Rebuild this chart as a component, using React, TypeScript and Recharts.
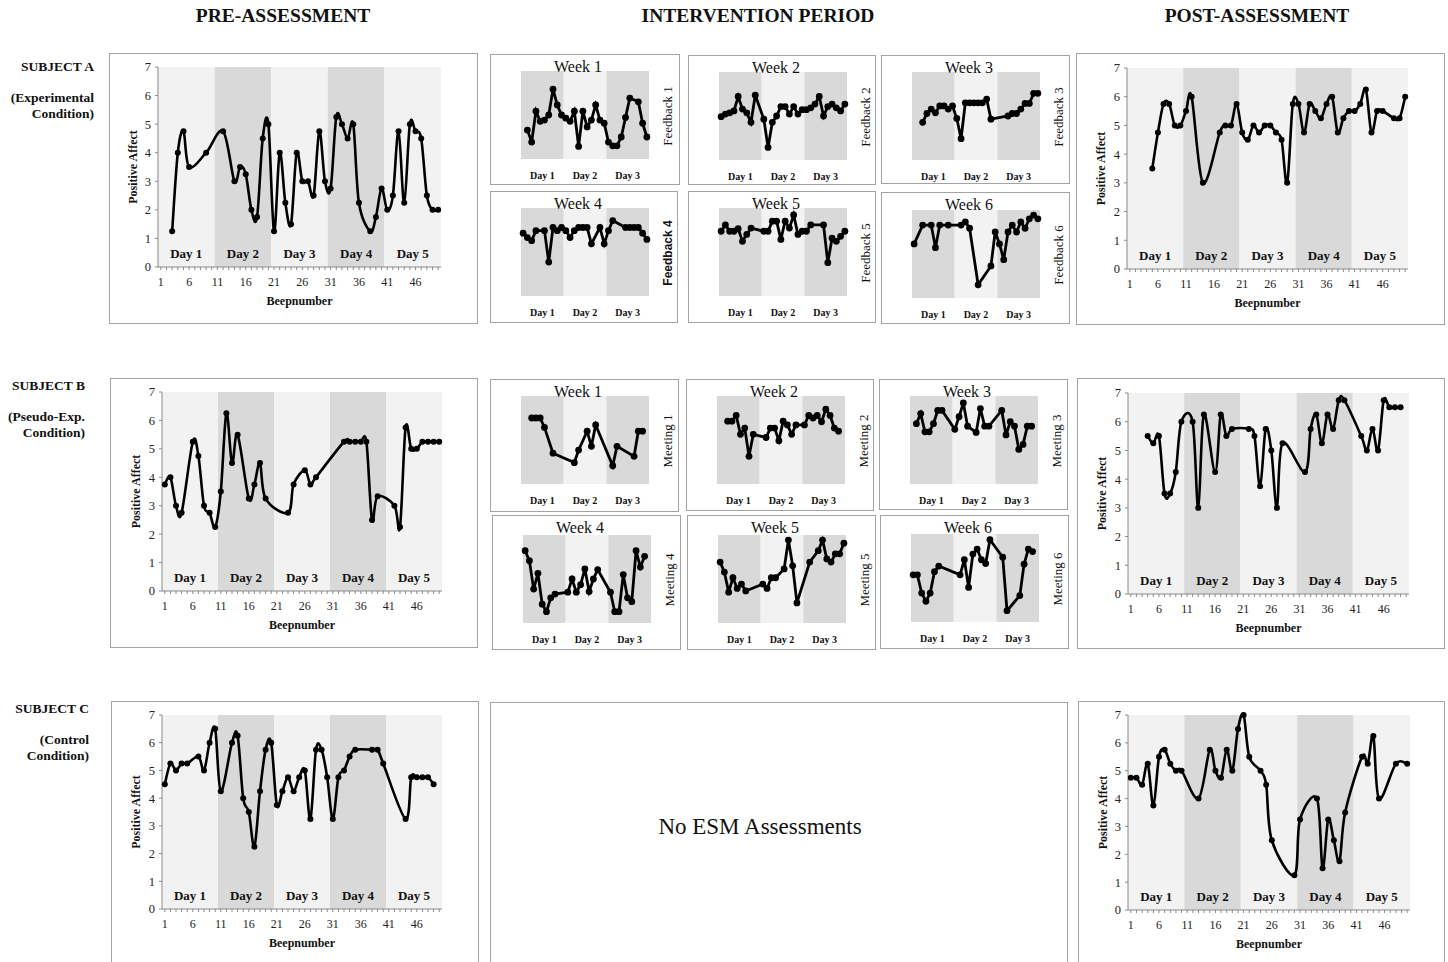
import { LineChart, Line, XAxis, YAxis, ReferenceArea } from 'recharts';

const SERIF = '"Liberation Serif", "Times New Roman", serif';
const SANS = '"Liberation Sans", Arial, sans-serif';
const LIGHT = '#f2f2f2';
const DARK = '#d9d9d9';
const AXIS = '#8a8a8a';

type V = number | null;

// beep numbers and tick labels
const beeps = Array.from({ length: 50 }, (_, i) => i + 1);
const miniBeeps = Array.from({ length: 30 }, (_, i) => i + 1);
const beepLabels = [1, 6, 11, 16, 21, 26, 31, 36, 41, 46];
const affectTicks = [0, 1, 2, 3, 4, 5, 6, 7];
const fiveDays = ['Day 1', 'Day 2', 'Day 3', 'Day 4', 'Day 5'];
const threeDays = ['Day 1', 'Day 2', 'Day 3'];

// pre / post assessment, positive affect per beep (null = missing beep)
const preA: V[] = [
  null, null, 1.25, 4.0, 4.75, 3.5, null, null, 4.0, null,
  null, 4.75, null, 3.0, 3.5, 3.25, 2.0, 1.75, 4.5, 5.0,
  1.25, 4.0, 2.25, 1.5, 4.0, 3.0, 3.0, 2.5, 4.75, 3.0,
  2.75, 5.25, 5.0, 4.5, 5.0, 2.25, null, 1.25, 1.75, 2.75,
  2.0, 2.5, 4.75, 2.25, 5.0, 4.75, 4.5, 2.5, 2.0, 2.0,
];
const postA: V[] = [
  null, null, null, null, 3.5, 4.75, 5.75, 5.75, 5.0, 5.0,
  5.5, 6.0, null, 3.0, null, null, 4.75, 5.0, 5.0, 5.75,
  4.75, 4.5, 5.0, 4.75, 5.0, 5.0, 4.75, 4.5, 3.0, 5.75,
  5.75, 4.75, 5.75, 5.5, 5.25, 5.75, 6.0, 4.75, 5.25, 5.5,
  5.5, 5.75, 6.25, 4.75, 5.5, 5.5, null, 5.25, 5.25, 6.0,
];
const preB: V[] = [
  3.75, 4.0, 3.0, 2.75, null, 5.25, 4.75, 3.0, 2.75, 2.25,
  3.5, 6.25, 4.5, 5.5, null, 3.25, 3.75, 4.5, 3.25, null,
  null, null, 2.75, 3.75, null, 4.25, 3.75, 4.0, null, null,
  null, null, 5.25, 5.25, 5.25, 5.25, 5.25, 2.5, 3.33, null,
  null, 3.0, 2.25, 5.75, 5.0, 5.0, 5.25, 5.25, 5.25, 5.25,
];
const postB: V[] = [
  null, null, null, 5.5, 5.25, 5.5, 3.5, 3.5, 4.25, 6.0,
  null, 6.0, 3.0, 6.25, null, 4.25, 6.25, 5.5, 5.75, null,
  null, 5.75, 5.5, 3.75, 5.75, 5.0, 3.0, 5.25, null, null,
  null, 4.25, 5.75, 6.25, 5.25, 6.25, 5.75, 6.75, 6.75, null,
  null, 5.5, 5.0, 5.75, 5.0, 6.75, 6.5, 6.5, 6.5, null,
];
const preC: V[] = [
  4.5, 5.25, 5.0, 5.25, 5.25, null, 5.5, 5.0, 6.0, 6.5,
  4.25, null, 6.0, 6.25, 4.0, 3.5, 2.25, 4.25, 5.75, 6.0,
  3.75, 4.25, 4.75, 4.25, 4.75, 5.0, 3.25, 5.75, 5.75, 4.75,
  3.25, 4.75, 5.0, 5.5, 5.75, null, null, 5.75, 5.75, 5.25,
  null, null, null, 3.25, 4.75, 4.75, 4.75, 4.75, 4.5, null,
];
const postC: V[] = [
  4.75, 4.75, 4.5, 5.25, 3.75, 5.5, 5.75, 5.25, 5.0, 5.0,
  null, null, 4.0, null, 5.75, 5.0, 4.75, 5.75, 5.0, 6.5,
  7.0, 5.5, null, 5.0, 4.5, 2.5, null, null, null, 1.25,
  3.25, null, null, 4.0, 1.5, 3.25, 2.5, 1.75, 3.5, null,
  null, 5.5, 5.25, 6.25, 4.0, null, null, 5.25, null, 5.25,
];

// intervention weeks, subject A (feedback)
const feedW1: V[] = [
  null, 2.3, 1.35, 3.8, 3.0, 3.1, 3.5, 5.55, 4.3, 3.5,
  3.25, 3.0, 3.8, 1.0, 3.8, 2.55, 3.1, 4.3, 3.1, 2.85,
  1.35, 1.05, 1.05, 1.75, 3.3, 4.85, null, 4.55, 2.85, 1.75,
];
const feedW2: V[] = [
  3.45, 3.65, 3.75, 3.9, 5.05, 4.05, 3.75, 3.0, 5.15, null,
  3.25, 1.0, 3.0, 3.5, 4.25, 4.25, 3.65, 4.25, 3.65, 4.0,
  4.0, 4.15, 4.45, 5.05, 3.5, 4.25, 4.45, 4.15, 3.9, 4.45,
];
const feedW3: V[] = [
  null, null, 3.0, 3.7, 4.05, 3.75, 4.3, 4.3, 4.05, 4.3,
  3.3, 1.7, 4.55, 4.55, 4.55, 4.55, 4.55, 4.85, 3.25, null,
  null, null, 3.5, 3.7, 3.7, 4.05, 4.5, 4.5, 5.3, 5.3,
];
const feedW4: V[] = [
  5.0, 4.65, 4.4, 5.2, null, 5.2, 2.7, 5.45, 5.2, 5.45,
  5.2, 4.65, 5.2, 5.45, 5.45, 5.45, 4.15, null, 5.45, 4.15,
  5.2, 6.0, null, null, 5.45, 5.45, 5.45, 5.45, 5.0, 4.5,
];
const feedW5: V[] = [
  5.15, 5.65, 5.15, 5.15, 5.35, 4.35, 4.9, 5.4, null, null,
  5.15, 5.15, 5.95, 5.95, 4.5, 5.95, 5.4, 6.45, 4.9, 5.15,
  5.15, 5.65, null, null, 5.65, 2.65, 4.6, 4.35, 4.75, 5.15,
];
const feedW6: V[] = [
  4.3, null, 5.8, null, 5.8, 4.0, 5.8, null, 5.8, null,
  null, 5.8, 6.05, 5.55, null, 1.05, null, null, 2.55, 5.25,
  4.3, 3.05, 5.25, 5.8, 5.25, 6.05, 5.55, 6.3, 6.6, 6.3,
];

// intervention weeks, subject B (meetings)
const meetW1: V[] = [
  null, null, 5.25, 5.25, 5.25, 4.5, null, 2.45, null, null,
  null, null, 1.7, 2.7, null, 4.2, 3.0, 4.7, null, null,
  null, 1.45, 3.0, null, null, null, 2.2, 4.2, 4.2, null,
];
const meetW2: V[] = [
  null, null, 5.0, 5.0, 5.45, 3.95, 4.45, 2.2, 3.95, null,
  null, 3.7, 4.45, 4.45, 3.45, 5.0, 4.7, 3.95, 4.7, null,
  4.7, 5.45, 5.25, 5.45, 4.95, 5.95, 5.45, 4.45, 4.2, null,
];
const meetW3: V[] = [
  null, 4.8, 5.6, 4.15, 4.15, 4.8, 5.85, 5.85, null, null,
  4.35, 5.35, 6.45, 4.6, null, 4.1, 6.0, 4.6, 4.6, null,
  null, 5.85, 3.9, 4.95, 4.6, 2.75, 3.15, 4.6, 4.6, null,
];
const meetW4: V[] = [
  5.75, 4.95, 2.7, 3.95, 1.5, 0.9, 2.0, 2.3, null, null,
  2.45, 3.5, 2.45, 3.05, 4.3, 2.5, 3.5, 4.25, null, null,
  2.45, 0.9, 0.9, 3.85, 2.0, 1.7, 5.75, 4.45, 5.3, null,
];
const meetW5: V[] = [
  4.85, 4.05, 2.45, 3.6, 2.75, 3.1, 2.55, null, null, null,
  3.1, 2.75, 3.6, 3.6, null, 4.3, 6.6, 4.55, 1.6, null,
  null, 4.85, null, 5.75, 6.6, 5.1, 4.85, 5.5, 5.5, 6.35,
];
const meetW6: V[] = [
  3.75, 3.75, 2.3, 1.65, 2.3, 4.0, 4.45, null, null, null,
  null, 3.75, 4.95, 2.75, 5.4, 5.8, 4.95, 4.65, 6.55, null,
  null, 5.15, 0.9, null, null, 2.1, 4.6, 5.8, 5.6, null,
];

// smoothed line like the spreadsheet's "smooth line" option
const smoothCurve = (context: any) => {
  let pts: number[][] = [];
  return {
    areaStart() {},
    areaEnd() {},
    lineStart() {
      pts = [];
    },
    lineEnd() {
      const n = pts.length;
      if (!n) return;
      context.moveTo(pts[0][0], pts[0][1]);
      for (let i = 0; i < n - 1; i++) {
        const p0 = pts[Math.max(i - 1, 0)];
        const p1 = pts[i];
        const p2 = pts[i + 1];
        const p3 = pts[Math.min(i + 2, n - 1)];
        context.bezierCurveTo(
          p1[0] + (p2[0] - p0[0]) / 6,
          p1[1] + (p2[1] - p0[1]) / 6,
          p2[0] - (p3[0] - p1[0]) / 6,
          p2[1] - (p3[1] - p1[1]) / 6,
          p2[0],
          p2[1],
        );
      }
    },
    point(x: number, y: number) {
      pts.push([+x, +y]);
    },
  };
};

interface Rect { x: number; y: number; w: number; h: number }

const XTick = (p: any) => {
  const v = p.payload.value;
  if (!beepLabels.includes(v)) return <g />;
  return (
    <text x={p.x} y={p.y} dy="0.71em" textAnchor="middle" fontSize={12} fill="#222" fontFamily={SERIF}>
      {v}
    </text>
  );
};

function AssessmentChart({ box, plot, values }: { box: Rect; plot: Rect; values: V[] }) {
  const w = box.w - 2;
  const h = box.h - 2;
  const yW = plot.x - box.x - 1;
  const top = plot.y - box.y - 1;
  const xH = 38;
  const right = w - yW - plot.w;
  const bottom = h - top - plot.h - xH;
  const data = beeps.map((b, i) => ({ beep: b, v: values[i] }));
  return (
    <div style={{ position: 'absolute', left: box.x, top: box.y, width: box.w, height: box.h, boxSizing: 'border-box', border: '1px solid #a3a3a3', background: '#fff' }}>
      <LineChart width={w} height={h} data={data} margin={{ top, right, bottom, left: 0 }}>
        {fiveDays.map((d, i) => (
          <ReferenceArea
            key={d}
            x1={i * 10 + 0.5}
            x2={i * 10 + 10.5}
            y1={0}
            y2={7}
            fill={i % 2 ? DARK : LIGHT}
            fillOpacity={1}
            stroke="none"
            label={{ value: d, position: 'insideBottom', offset: 9, fontSize: 13, fontWeight: 700, fill: '#111', fontFamily: SERIF }}
          />
        ))}
        <XAxis
          dataKey="beep"
          type="number"
          domain={[0.5, 50.5]}
          ticks={beeps}
          interval={0}
          height={xH}
          stroke={AXIS}
          tickSize={3}
          tickMargin={7}
          tick={XTick}
          label={{ value: 'Beepnumber', position: 'insideBottom', offset: 0, fontSize: 12, fontWeight: 700, fill: '#111', fontFamily: SERIF }}
        />
        <YAxis
          type="number"
          domain={[0, 7]}
          ticks={affectTicks}
          interval={0}
          width={yW}
          stroke={AXIS}
          tickSize={3}
          tickMargin={4}
          tick={{ fontSize: 12.5, fill: '#222', fontFamily: SERIF }}
          label={{ value: 'Positive Affect', angle: -90, position: 'center', dx: -1, fontSize: 12, fontWeight: 700, fill: '#111', fontFamily: SERIF }}
        />
        <Line
          dataKey="v"
          type={smoothCurve as any}
          stroke="#000"
          strokeWidth={2.6}
          dot={{ r: 3, fill: '#000', stroke: '#000', strokeWidth: 0 }}
          activeDot={false}
          connectNulls
          isAnimationActive={false}
        />
      </LineChart>
    </div>
  );
}

function WeekChart({ box, values, title, side, sideSans = false, plotTop = 17 }: { box: Rect; values: V[]; title: string; side: string; sideSans?: boolean; plotTop?: number }) {
  const w = box.w - 2;
  const h = box.h - 2;
  const plotW = 128;
  const plotH = 88;
  const xH = 22;
  const data = miniBeeps.map((b, i) => ({ beep: b, v: values[i] }));
  return (
    <div style={{ position: 'absolute', left: box.x, top: box.y, width: box.w, height: box.h, boxSizing: 'border-box', border: '1px solid #a3a3a3', background: '#fff' }}>
      <LineChart width={w} height={h} data={data} margin={{ top: plotTop - 1, left: 30, right: w - 30 - plotW, bottom: h - plotTop + 1 - plotH - xH }}>
        {threeDays.map((d, i) => (
          <ReferenceArea key={d} x1={i * 10 + 0.5} x2={i * 10 + 10.5} y1={0} y2={7} fill={i === 1 ? LIGHT : DARK} fillOpacity={1} stroke="none" />
        ))}
        <XAxis
          dataKey="beep"
          type="number"
          domain={[0.5, 30.5]}
          ticks={[5.5, 15.5, 25.5]}
          tickFormatter={(v: number) => threeDays[Math.floor(v / 10)]}
          interval={0}
          height={xH}
          axisLine={false}
          tickLine={false}
          tickMargin={7}
          tick={{ fontSize: 10, fontWeight: 700, fill: '#111', fontFamily: SERIF }}
        />
        <YAxis type="number" domain={[0, 7]} hide />
        <Line
          dataKey="v"
          type="linear"
          stroke="#000"
          strokeWidth={2.8}
          dot={{ r: 3.4, fill: '#000', stroke: '#000', strokeWidth: 0 }}
          activeDot={false}
          connectNulls
          isAnimationActive={false}
        />
      </LineChart>
      <div style={{ position: 'absolute', left: 27, top: 3, width: 120, textAlign: 'center', fontSize: 16, lineHeight: '18px', fontFamily: SERIF, color: '#111' }}>
        {title}
      </div>
      <div
        style={{
          position: 'absolute',
          left: 117,
          top: plotTop + plotH / 2 - 9,
          width: 120,
          textAlign: 'center',
          fontSize: sideSans ? 12 : 13,
          fontWeight: sideSans ? 700 : 400,
          lineHeight: '18px',
          fontFamily: sideSans ? SANS : SERIF,
          color: '#111',
          transform: 'rotate(-90deg)',
        }}
      >
        {side}
      </div>
    </div>
  );
}

function Header({ cx, text }: { cx: number; text: string }) {
  return (
    <div style={{ position: 'absolute', left: cx - 200, top: 5, width: 400, textAlign: 'center', fontSize: 19.5, fontWeight: 700, lineHeight: '22px', fontFamily: SERIF, color: '#111' }}>
      {text}
    </div>
  );
}

function SubjectLabel({ right, y, lines }: { right: number; y: number; lines: string[] }) {
  const tops = [y - 8, y + 23, y + 39];
  return (
    <>
      {lines.map((t, i) => (
        <div key={t} style={{ position: 'absolute', left: right - 120, top: tops[i], width: 120, textAlign: 'right', fontSize: 13.5, fontWeight: 700, lineHeight: '16px', fontFamily: SERIF, color: '#111' }}>
          {t}
        </div>
      ))}
    </>
  );
}

export default function App() {
  return (
    <div style={{ position: 'absolute', left: 0, top: 0, width: 1448, height: 962, overflow: 'hidden', background: '#fff' }}>
      <Header cx={283} text="PRE-ASSESSMENT" />
      <Header cx={758} text="INTERVENTION PERIOD" />
      <Header cx={1257} text="POST-ASSESSMENT" />

      <SubjectLabel right={94} y={67} lines={['SUBJECT A', '(Experimental', 'Condition)']} />
      <SubjectLabel right={85} y={386} lines={['SUBJECT B', '(Pseudo-Exp.', 'Condition)']} />
      <SubjectLabel right={89} y={709} lines={['SUBJECT C', '(Control', 'Condition)']} />

      <AssessmentChart box={{ x: 109, y: 53, w: 369, h: 271 }} plot={{ x: 158, y: 67, w: 283, h: 200 }} values={preA} />
      <AssessmentChart box={{ x: 110, y: 378, w: 368, h: 270 }} plot={{ x: 162, y: 392, w: 280, h: 199 }} values={preB} />
      <AssessmentChart box={{ x: 111, y: 701, w: 368, h: 266 }} plot={{ x: 162, y: 715, w: 280, h: 194 }} values={preC} />

      <AssessmentChart box={{ x: 1076, y: 53, w: 369, h: 272 }} plot={{ x: 1127, y: 68, w: 281, h: 201 }} values={postA} />
      <AssessmentChart box={{ x: 1077, y: 378, w: 368, h: 271 }} plot={{ x: 1128, y: 393, w: 281, h: 201 }} values={postB} />
      <AssessmentChart box={{ x: 1078, y: 701, w: 367, h: 266 }} plot={{ x: 1128, y: 715, w: 282, h: 195 }} values={postC} />

      <WeekChart box={{ x: 490, y: 54, w: 190, h: 131 }} values={feedW1} title="Week 1" side="Feedback 1" />
      <WeekChart box={{ x: 688, y: 55, w: 188, h: 130 }} values={feedW2} title="Week 2" side="Feedback 2" />
      <WeekChart box={{ x: 881, y: 55, w: 189, h: 129 }} values={feedW3} title="Week 3" side="Feedback 3" />
      <WeekChart box={{ x: 490, y: 191, w: 188, h: 132 }} values={feedW4} title="Week 4" side="Feedback 4" sideSans />
      <WeekChart box={{ x: 688, y: 191, w: 188, h: 132 }} values={feedW5} title="Week 5" side="Feedback 5" />
      <WeekChart box={{ x: 881, y: 192, w: 189, h: 132 }} values={feedW6} title="Week 6" side="Feedback 6" plotTop={18} />

      <WeekChart box={{ x: 490, y: 379, w: 189, h: 133 }} values={meetW1} title="Week 1" side="Meeting 1" />
      <WeekChart box={{ x: 686, y: 379, w: 188, h: 132 }} values={meetW2} title="Week 2" side="Meeting 2" />
      <WeekChart box={{ x: 879, y: 379, w: 189, h: 131 }} values={meetW3} title="Week 3" side="Meeting 3" />
      <WeekChart box={{ x: 492, y: 515, w: 189, h: 135 }} values={meetW4} title="Week 4" side="Meeting 4" plotTop={20} />
      <WeekChart box={{ x: 687, y: 515, w: 189, h: 135 }} values={meetW5} title="Week 5" side="Meeting 5" plotTop={20} />
      <WeekChart box={{ x: 880, y: 515, w: 189, h: 134 }} values={meetW6} title="Week 6" side="Meeting 6" plotTop={19} />

      <div style={{ position: 'absolute', left: 490, top: 702, width: 578, height: 275, boxSizing: 'border-box', border: '1px solid #a3a3a3', background: '#fff' }}>
        <div style={{ position: 'absolute', left: -19, top: 111, width: 576, textAlign: 'center', fontSize: 23, lineHeight: '26px', fontFamily: SERIF, color: '#111' }}>
          No ESM Assessments
        </div>
      </div>
    </div>
  );
}
